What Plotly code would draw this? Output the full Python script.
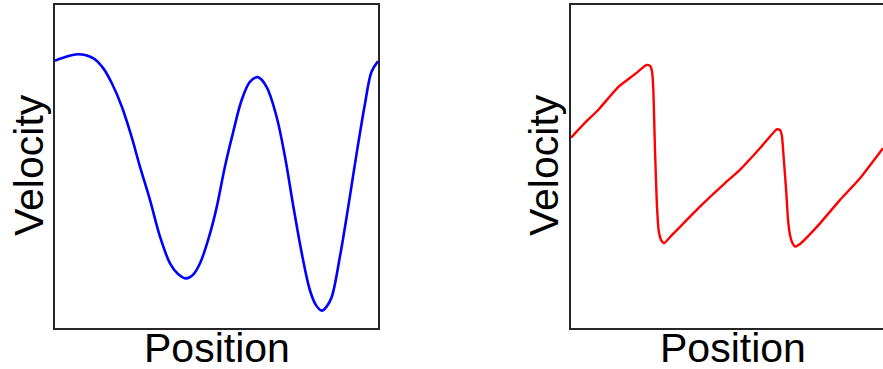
import plotly.graph_objects as go

# left panel: smooth wave
pos_left = [0.00, 0.34, 0.71, 1.18, 1.49, 1.76, 2.07, 2.37, 2.63, 2.94, 3.25, 3.56, 3.81,
            4.06, 4.27, 4.49, 4.80, 5.01, 5.26, 5.52, 5.78, 6.04, 6.28, 6.55, 6.86, 7.12,
            7.38, 7.64, 7.89, 8.08, 8.26, 8.42, 8.57, 8.82, 9.08, 9.34, 9.60, 9.80, 10.00]
vel_left = [8.30, 8.42, 8.50, 8.38, 8.07, 7.60, 6.87, 5.94, 5.01, 3.98, 2.84, 2.01, 1.68,
            1.54, 1.65, 2.01, 2.94, 3.77, 5.01, 6.10, 7.08, 7.65, 7.79, 7.49, 6.56, 5.32,
            3.77, 2.32, 1.18, 0.71, 0.54, 0.68, 0.97, 2.21, 3.77, 5.43, 6.98, 7.96, 8.28]

# right panel: sawtooth / shock profile
pos_right = [0.00, 0.40, 0.84, 1.46, 1.95, 2.34, 2.45, 2.51, 2.55, 2.60, 2.66, 2.72, 2.79,
             2.88, 3.13, 3.93, 4.77, 5.23, 5.85, 6.37, 6.47, 6.53, 6.59, 6.66, 6.72, 6.78,
             6.87, 6.94, 7.09, 7.71, 8.33, 8.95, 9.66]
vel_right = [5.91, 6.34, 6.77, 7.48, 7.86, 8.17, 8.14, 7.95, 7.39, 5.53, 3.82, 2.98, 2.73,
             2.63, 2.89, 3.71, 4.50, 4.91, 5.58, 6.17, 6.15, 5.96, 5.22, 4.29, 3.35, 2.89,
             2.61, 2.53, 2.61, 3.25, 3.98, 4.65, 5.58]

W, H = 883, 369

fig = go.Figure()
fig.add_trace(go.Scatter(x=pos_left, y=vel_left, mode='lines',
                         line=dict(color='#0000ff', width=2.6, shape='spline'),
                         xaxis='x', yaxis='y', showlegend=False))
fig.add_trace(go.Scatter(x=pos_right, y=vel_right, mode='lines',
                         line=dict(color='#ff0000', width=2.4, shape='spline', smoothing=0.4),
                         xaxis='x2', yaxis='y2', showlegend=False))

ax = dict(showgrid=False, zeroline=False, showticklabels=False, ticks='',
          showline=True, linecolor='#262626', linewidth=1.5)

fig.update_layout(
    width=W, height=H,
    margin=dict(l=0, r=0, t=5, b=41),
    paper_bgcolor='white', plot_bgcolor='white',
    font=dict(family='Liberation Sans, Arial, sans-serif', color='black'),
    xaxis=dict(ax, domain=[55 / W, 378 / W], range=[0, 10], mirror=True),
    yaxis=dict(ax, range=[0, 10.03], mirror=True),
    xaxis2=dict(ax, domain=[571 / W, 1.0], range=[0, 9.66], mirror=True, anchor='y2'),
    yaxis2=dict(ax, range=[0, 10.03], mirror=False, anchor='x2'),
)

titles = [
    ('Position', 216.5 / W, -0.062, 0),
    ('Position', 732.5 / W, -0.062, 0),
    ('Velocity', 28.5 / W, 0.503, -90),
    ('Velocity', 543.5 / W, 0.503, -90),
]
for txt, x, y, ang in titles:
    fig.add_annotation(text=txt, x=x, y=y, xref='paper', yref='paper',
                       xanchor='center', yanchor='middle', textangle=ang,
                       showarrow=False, font=dict(size=41, color='black'))

# page body has a default 8px margin; remove it so the figure sits at the top-left
fig.write_html("out.html", config={'displayModeBar': False},
               post_script="document.body.style.margin='0px';")
